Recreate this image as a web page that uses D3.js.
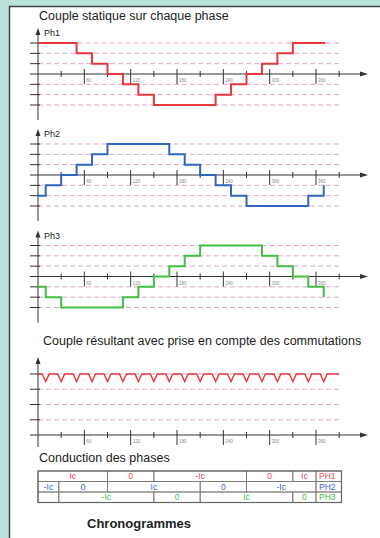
<!DOCTYPE html>
<html>
<head>
<meta charset="utf-8">
<script src="https://cdn.jsdelivr.net/npm/d3@7"></script>
<style>
  body { margin: 0; background: #b9e2da; }
  text { font-family: "Liberation Sans", Arial, sans-serif; }
</style>
</head>
<body>
<div id="chart"></div>
<script>
// step points [angle in degrees, torque level]
var ph1Steps = [[0,3],[50,2],[70,1],[90,0],[110,-1],[130,-2],[150,-3],[230,-2],[250,-1],[270,0],[290,1],[310,2],[330,3],[372,3]];
var ph2Steps = [[0,-2],[10,-1],[30,0],[50,1],[70,2],[90,3],[170,2],[190,1],[210,0],[230,-1],[250,-2],[270,-3],[350,-2],[370,-1]];
var ph3Steps = [[0,-1],[10,-2],[30,-3],[110,-2],[130,-1],[150,0],[170,1],[190,2],[210,3],[290,2],[310,1],[330,0],[350,-1],[370,-2]];

// resultant torque: dips at each commutation
var dipAngles = [10,30,50,70,90,110,130,150,170,190,210,230,250,270,290,310,330,350,370];
var torqueTop = 4;
var torqueDip = 3.5;

var majorTicks = [60,120,180,240,300,360];
var minorTicks = [30,90,150,210,270,330,390];
var phaseLevels = [-3,-2,-1,1,2,3];
var resultLevels = [1,2,3,4];

// conduction table
var phaseNames = ["PH1","PH2","PH3"];
var ph1Cond = [[0,90,"Ic"],[90,150,"0"],[150,270,"-Ic"],[270,330,"0"],[330,360,"Ic"]];
var ph2Cond = [[0,27,"-Ic"],[27,90,"0"],[90,210,"Ic"],[210,270,"0"],[270,360,"-Ic"]];
var ph3Cond = [[0,27,""],[27,150,"-Ic"],[150,210,"0"],[210,330,"Ic"],[330,360,"0"]];

var width = 380;
var height = 538;

var svg = d3.select("#chart")
    .append("svg")
    .attr("width", width)
    .attr("height", height);

// white sheet with dark edge
svg.append("rect")
    .attr("x", 9).attr("y", 6)
    .attr("width", width - 9).attr("height", height - 6)
    .attr("fill", "white");
svg.append("path")
    .attr("d", "M9.5," + height + "V6.5H" + width)
    .attr("stroke", "#444").attr("stroke-width", 1.5).attr("fill", "none");

var xScale = d3.scaleLinear().domain([0, 360]).range([38, 316]);

var dashColor = "#e4a3cb";
var axisColor = "#333";

function drawAxes(axisY, yTop, yBottom, yScale, levels) {
    // level lines
    levels.forEach(function(l) {
        svg.append("line")
            .attr("x1", 38).attr("x2", xScale(390))
            .attr("y1", yScale(l)).attr("y2", yScale(l))
            .attr("stroke", dashColor).attr("stroke-width", 1)
            .attr("stroke-dasharray", "5,3");
        svg.append("line")
            .attr("x1", 30).attr("x2", 40)
            .attr("y1", yScale(l)).attr("y2", yScale(l))
            .attr("stroke", axisColor).attr("stroke-width", 1);
    });

    // x axis with arrow
    svg.append("line")
        .attr("x1", 30).attr("x2", 362)
        .attr("y1", axisY).attr("y2", axisY)
        .attr("stroke", axisColor).attr("stroke-width", 1);
    svg.append("path")
        .attr("d", "M368," + axisY + "L360," + (axisY - 2.5) + "L360," + (axisY + 2.5) + "Z")
        .attr("fill", axisColor);

    minorTicks.forEach(function(t) {
        svg.append("line")
            .attr("x1", xScale(t)).attr("x2", xScale(t))
            .attr("y1", axisY - 3).attr("y2", axisY + 3)
            .attr("stroke", axisColor).attr("stroke-width", 1);
    });
    majorTicks.forEach(function(t) {
        svg.append("line")
            .attr("x1", xScale(t)).attr("x2", xScale(t))
            .attr("y1", axisY - 5).attr("y2", axisY + 10)
            .attr("stroke", axisColor).attr("stroke-width", 1);
        svg.append("text")
            .attr("x", xScale(t) + 2)
            .attr("y", axisY + 8)
            .attr("font-size", 4.5)
            .attr("fill", "#888")
            .text(t);
    });

    // y axis with arrow
    svg.append("line")
        .attr("x1", 38).attr("x2", 38)
        .attr("y1", yTop + 5).attr("y2", yBottom)
        .attr("stroke", axisColor).attr("stroke-width", 1);
    svg.append("path")
        .attr("d", "M38," + yTop + "L35.5," + (yTop + 7) + "L40.5," + (yTop + 7) + "Z")
        .attr("fill", axisColor);
}

var panels = [
    { name: "Ph1", data: ph1Steps, color: "#e6373c", axisY: 74 },
    { name: "Ph2", data: ph2Steps, color: "#2f66c0", axisY: 175 },
    { name: "Ph3", data: ph3Steps, color: "#3fbf43", axisY: 276.5 }
];

svg.append("text")
    .attr("x", 39).attr("y", 20)
    .attr("font-size", 12.5).attr("fill", "#222")
    .text("Couple statique sur chaque phase");

panels.forEach(function(p) {
    var yScale = d3.scaleLinear().domain([-3, 3]).range([p.axisY + 31, p.axisY - 31]);
    drawAxes(p.axisY, p.axisY - 46, p.axisY + 46, yScale, phaseLevels);

    svg.append("text")
        .attr("x", 44).attr("y", p.axisY - 38)
        .attr("font-size", 9).attr("fill", "#222")
        .text(p.name);

    var line = d3.line()
        .x(function(d) { return xScale(d[0]); })
        .y(function(d) { return yScale(d[1]); })
        .curve(d3.curveStepAfter);

    svg.append("path")
        .datum(p.data)
        .attr("d", line)
        .attr("stroke", p.color)
        .attr("stroke-width", 2)
        .attr("fill", "none");
});

// resultant torque
svg.append("text")
    .attr("x", 43).attr("y", 345)
    .attr("font-size", 12.5).attr("fill", "#222")
    .text("Couple résultant avec prise en compte des commutations");

var resAxisY = 435;
var resScale = d3.scaleLinear().domain([0, 4]).range([resAxisY, 374]);
drawAxes(resAxisY, 357, 447, resScale, resultLevels);

var torquePoints = [[0, torqueTop]];
dipAngles.forEach(function(a) {
    torquePoints.push([a - 4.5, torqueTop]);
    torquePoints.push([a, torqueDip]);
    torquePoints.push([a + 4.5, torqueTop]);
});
torquePoints.push([390, torqueTop]);

svg.append("path")
    .datum(torquePoints)
    .attr("d", d3.line()
        .x(function(d) { return xScale(d[0]); })
        .y(function(d) { return resScale(d[1]); }))
    .attr("stroke", "#e6373c")
    .attr("stroke-width", 1.4)
    .attr("fill", "none");

// conduction table
svg.append("text")
    .attr("x", 39).attr("y", 462)
    .attr("font-size", 12.5).attr("fill", "#222")
    .text("Conduction des phases");

var tableTop = 471;
var rowH = 10.5;
var rowColors = ["#e84a4a", "#3a64c0", "#44b948"];
var condRows = [ph1Cond, ph2Cond, ph3Cond];
var labelEnd = 393;

condRows.forEach(function(row, i) {
    var y = tableTop + i * rowH;
    row.forEach(function(c) {
        svg.append("rect")
            .attr("x", xScale(c[0])).attr("y", y)
            .attr("width", xScale(c[1]) - xScale(c[0])).attr("height", rowH)
            .attr("fill", "none").attr("stroke", "#777").attr("stroke-width", 0.8);
        svg.append("text")
            .attr("x", (xScale(c[0]) + xScale(c[1])) / 2)
            .attr("y", y + rowH / 2 + 3)
            .attr("text-anchor", "middle")
            .attr("font-size", 8.5).attr("fill", rowColors[i])
            .text(c[2]);
    });
    svg.append("rect")
        .attr("x", xScale(360)).attr("y", y)
        .attr("width", xScale(labelEnd) - xScale(360)).attr("height", rowH)
        .attr("fill", "none").attr("stroke", "#777").attr("stroke-width", 0.8);
    svg.append("text")
        .attr("x", xScale(360) + 3)
        .attr("y", y + rowH / 2 + 3)
        .attr("font-size", 8.5).attr("fill", rowColors[i])
        .text(phaseNames[i]);
});

svg.append("rect")
    .attr("x", xScale(0)).attr("y", tableTop)
    .attr("width", xScale(labelEnd) - xScale(0)).attr("height", rowH * 3)
    .attr("fill", "none").attr("stroke", "#666").attr("stroke-width", 1.2);

svg.append("text")
    .attr("x", 87).attr("y", 528)
    .attr("font-size", 13).attr("font-weight", "bold").attr("fill", "#222")
    .text("Chronogrammes");
</script>
</body>
</html>
